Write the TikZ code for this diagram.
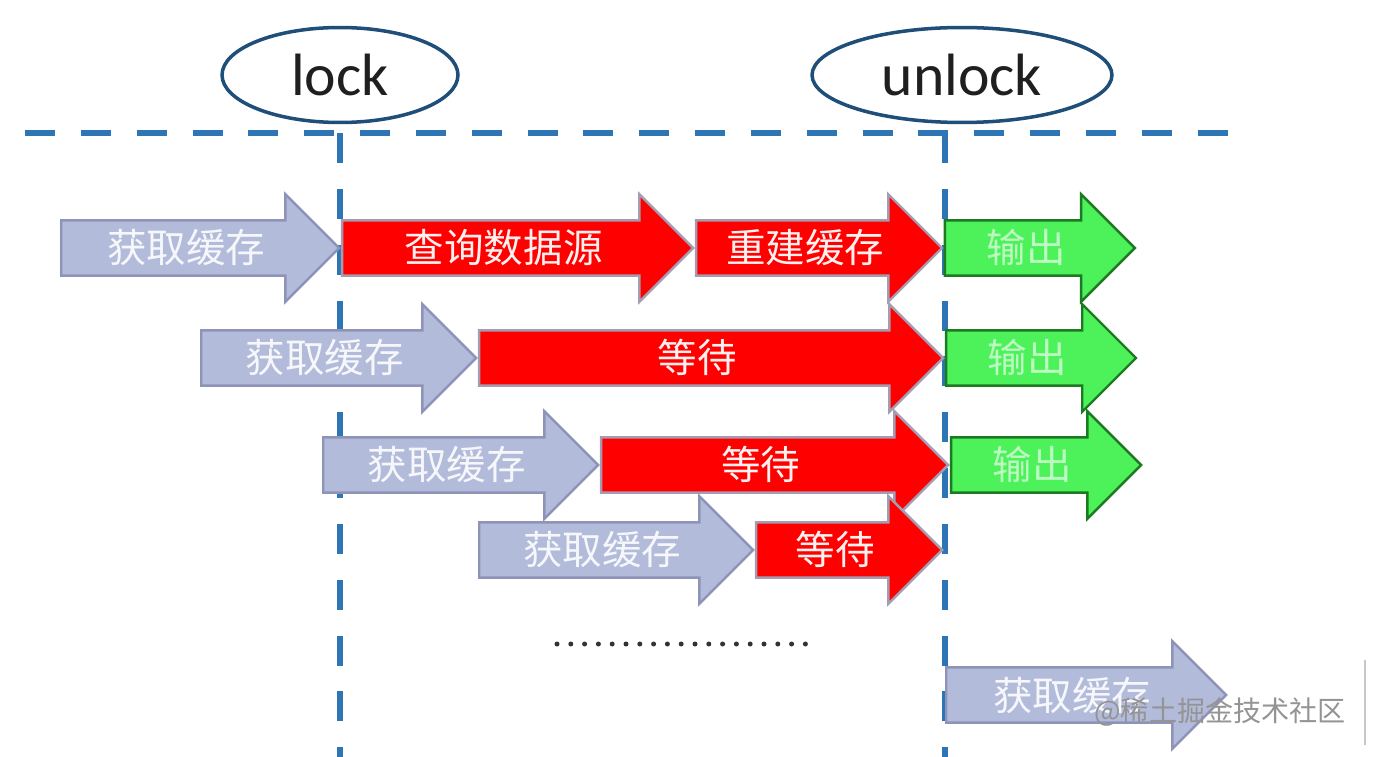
\documentclass[tikz,border=0pt]{standalone}
\usepackage{fontspec}
\setmainfont{Carlito}
\newfontfamily\cjk{Noto Sans CJK SC}
\usepackage{xcolor}
\usetikzlibrary{shapes.geometric, shapes.arrows, positioning}

\definecolor{lineblue}{HTML}{2E75B6}
\definecolor{ovalblue}{HTML}{1F4E79}
\definecolor{getfill}{HTML}{B3BBDA}
\definecolor{getdraw}{HTML}{8D94B8}
\definecolor{waitfill}{HTML}{FF0000}
\definecolor{waitdraw}{HTML}{A69CB2}
\definecolor{outfill}{HTML}{4DF25A}
\definecolor{outdraw}{HTML}{1C7A23}

\begin{document}
\begin{tikzpicture}[
    x=0.02cm, y=-0.02cm,
    oval/.style={ellipse, draw=ovalblue, line width=2pt, minimum height=1.9cm, inner sep=0pt,
                 font=\fontsize{34}{36}\selectfont, text=black!88},
    guide/.style={draw=lineblue, line width=3.3pt, dash pattern=on 0.6cm off 0.517cm},
    blockarr/.style={single arrow, single arrow head extend=0.52cm, single arrow tip angle=90,
                     line width=1.4pt, font=\cjk\fontsize{22.5}{24}\selectfont,
                     text height=0.7cm, text depth=0.1cm, inner ysep=0.13cm, inner xsep=0pt,
                     anchor=tail, minimum height=#1},
    getarr/.style={blockarr=#1, fill=getfill, draw=getdraw, text=white!88!getfill},
    waitarr/.style={blockarr=#1, fill=waitfill, draw=waitdraw, text=white!94!waitfill},
    outarr/.style={blockarr=#1, fill=outfill, draw=outdraw, text=white!62!outfill}
]
\useasboundingbox (0,0) rectangle (1394,757);

\node[oval, minimum width=4.72cm] (lock)   at (340,75) {lock};
\node[oval, minimum width=6.0cm]  (unlock) at (962,75) {unlock};

% guide lines
\coordinate (left)   at (25,133);
\coordinate (right)  at (1229,133);
\coordinate (bottom) at (0,757);
\draw[guide] (left) -- (right);
\draw[guide] (lock |- left) -- (lock |- bottom);
\draw[guide] (945,133) -- (945,757);

% first request rebuilds the cache
\node[getarr=5.56cm]  (get1)    at (60,248)      {获取缓存};
\node[waitarr=7.02cm] (query)   at (get1.tip)    {查询数据源};
\node[waitarr=4.92cm] (rebuild) at (query.tip)   {重建缓存};
\node[outarr=3.8cm]   (out1)    at (rebuild.tip) {输出};

% the others wait
\node[getarr=5.5cm]  (get2)  at (200,358)  {获取缓存};
\node[waitarr=9.28cm](wait2) at (get2.tip)  {等待};
\node[outarr=3.8cm]  (out2)  at (wait2.tip) {输出};

\node[getarr=5.5cm]  (get3)  at (322,465)  {获取缓存};
\node[waitarr=6.94cm](wait3) at (get3.tip)  {等待};
\node[outarr=3.8cm]  (out3)  at (wait3.tip) {输出};

\node[getarr=5.48cm] (get4)  at (478,550)  {获取缓存};
\node[waitarr=3.72cm](wait4) at (get4.tip)  {等待};

\foreach \i in {0,...,18}
    \fill[black!80] (557+\i*13.8,644) circle[radius=0.05cm];

\node[getarr=5.6cm] (get5) at (945,695) {获取缓存};

% watermark
\node[font=\cjk\fontsize{16}{18}\selectfont, text=black!42, anchor=west, inner sep=0pt]
    (mark) at (1094,712) {@稀土掘金技术社区};
\draw[black!22, line width=1.2pt] (1365,660) -- (1365,745);
\end{tikzpicture}
\end{document}
